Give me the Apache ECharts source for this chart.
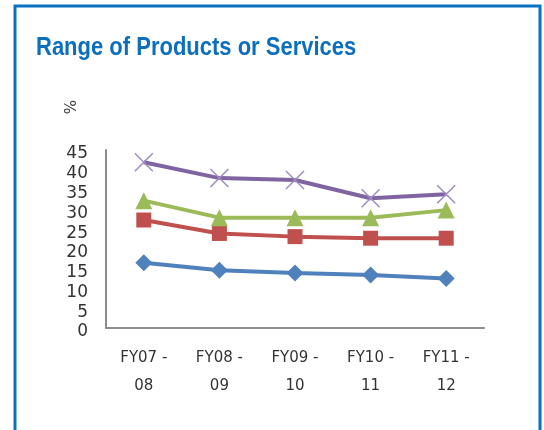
<!DOCTYPE html>
<html>
<head>
<meta charset="utf-8">
<script src="https://cdn.jsdelivr.net/npm/echarts@6/dist/echarts.min.js"></script>
<style>
  html, body { margin: 0; padding: 0; background: #fff; }
  #main { width: 544px; height: 430px; }
</style>
</head>
<body>
<div id="main"></div>
<script>
// categories on the x axis
var categories = ['FY07 -\n08', 'FY08 -\n09', 'FY09 -\n10', 'FY10 -\n11', 'FY11 -\n12'];
// series values (%)
var seriesBlue = [16.5, 14.6, 13.9, 13.4, 12.5];
var seriesRed = [27.3, 23.9, 23.1, 22.7, 22.7];
var seriesGreen = [32.2, 27.9, 27.9, 27.9, 29.8];
var seriesPurple = [41.9, 37.9, 37.4, 32.8, 33.8];
var yTicks = [0, 5, 10, 15, 20, 25, 30, 35, 40, 45];

var myChart = echarts.init(document.getElementById('main'));

function line(name, data, color, symbol, size) {
    return {
        name: name,
        type: 'line',
        data: data,
        symbol: symbol,
        symbolSize: size,
        lineStyle: { color: color, width: 4 },
        itemStyle: { color: color },
        z: 3
    };
}

var crossPath = 'path://M0,0L10,10M10,0L0,10';

myChart.setOption({
    animation: false,
    graphic: [{
        type: 'rect',
        shape: { x: 15, y: 6, width: 525, height: 440 },
        style: { fill: 'none', stroke: '#0a70c2', lineWidth: 3 }
    }, {
        // title, squeezed to look like the condensed original face
        type: 'text',
        x: 36,
        y: 36,
        scaleX: 0.88,
        style: {
            text: 'Range of Products or Services',
            fill: '#0b6fbe',
            font: 'bold 25px "Liberation Sans", sans-serif'
        }
    }, {
        type: 'text',
        x: 75,
        y: 100,
        rotation: -Math.PI / 2,
        style: {
            text: '%',
            fill: '#404040',
            font: '15px "DejaVu Sans"'
        }
    }],
    grid: { left: 106, right: 60, top: 150, bottom: 102 },
    xAxis: {
        type: 'category',
        data: categories,
        boundaryGap: true,
        axisLine: { lineStyle: { color: '#8c8c8c', width: 2 } },
        axisTick: { show: false },
        axisLabel: {
            color: '#333333',
            fontFamily: 'DejaVu Sans',
            fontSize: 15,
            lineHeight: 28,
            margin: 16
        }
    },
    yAxis: {
        type: 'value',
        min: yTicks[0],
        max: yTicks[yTicks.length - 1],
        interval: 5,
        axisLine: { show: true, lineStyle: { color: '#8c8c8c', width: 2 } },
        axisTick: { show: false },
        splitLine: { show: false },
        axisLabel: {
            color: '#333333',
            fontFamily: 'DejaVu Sans',
            fontSize: 17,
            margin: 18,
            verticalAlign: 'top',
            lineHeight: 8
        }
    },
    series: [
        line('A', seriesBlue, '#4f81bd', 'diamond', 17),
        line('B', seriesRed, '#c0504d', 'rect', 15),
        line('C', seriesGreen, '#9bbb59', 'triangle', 17),
        {
            name: 'D',
            type: 'line',
            data: seriesPurple,
            symbol: crossPath,
            symbolSize: 18,
            lineStyle: { color: '#8064a2', width: 4 },
            itemStyle: { color: 'none', borderColor: '#a08cc4', borderWidth: 1.5 },
            z: 3
        }
    ]
});
</script>
</body>
</html>
